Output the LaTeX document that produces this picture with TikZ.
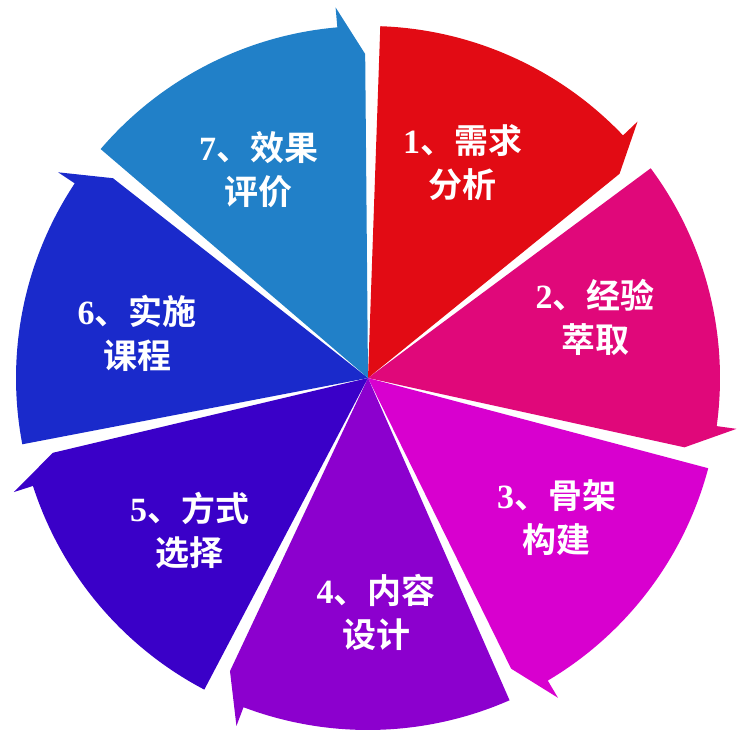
\documentclass[tikz,border=0pt]{standalone}
\usetikzlibrary{calc}
\usepackage{fontspec}
\newfontfamily\cjk{Noto Sans CJK SC Bold}
\newfontfamily\num{Liberation Serif Bold}
\tikzset{lbl/.style={text=white,font=\cjk\fontsize{34}{44}\selectfont,align=center}}
\begin{document}
\begin{tikzpicture}[x=1pt,y=1pt]
\useasboundingbox (0,0) rectangle (750,751);
\definecolor{c1}{HTML}{E20B14}
\definecolor{c2}{HTML}{E0087A}
\definecolor{c3}{HTML}{D800CF}
\definecolor{c4}{HTML}{8C00CE}
\definecolor{c5}{HTML}{3A00C8}
\definecolor{c6}{HTML}{1A2ACB}
\definecolor{c7}{HTML}{2180C8}
\coordinate (O) at (368,373);
\def\R{352}
\foreach \k/\c in {1/c1,2/c2,3/c3,4/c4,5/c5,6/c6,7/c7}{
  \pgfmathsetmacro\s{90-(\k-1)*51.4286-2}
  \pgfmathsetmacro\n{90-\k*51.4286}
  \pgfmathsetmacro\e{\n+5}
  \fill[\c] (O) -- ($(O)+(\s:\R)$) arc[start angle=\s,end angle=\e,radius=\R]
     -- ($(O)+(\e:\R+20)$) -- ($(O)+(\n+0.5:\R-28)$) -- cycle;
}
\foreach \k/\t in {1/{\num 1}、需求\\分析,2/{\num 2}、经验\\萃取,3/{\num 3}、骨架\\构建,4/{\num 4}、内容\\设计,5/{\num 5}、方式\\选择,6/{\num 6}、实施\\课程,7/{\num 7}、效果\\评价}{
  \pgfmathsetmacro\m{90-(\k-0.5)*51.4286+2}
  \node[lbl] (n\k) at ($(O)+(\m:235)$) {\t};
}
\end{tikzpicture}
\end{document}
